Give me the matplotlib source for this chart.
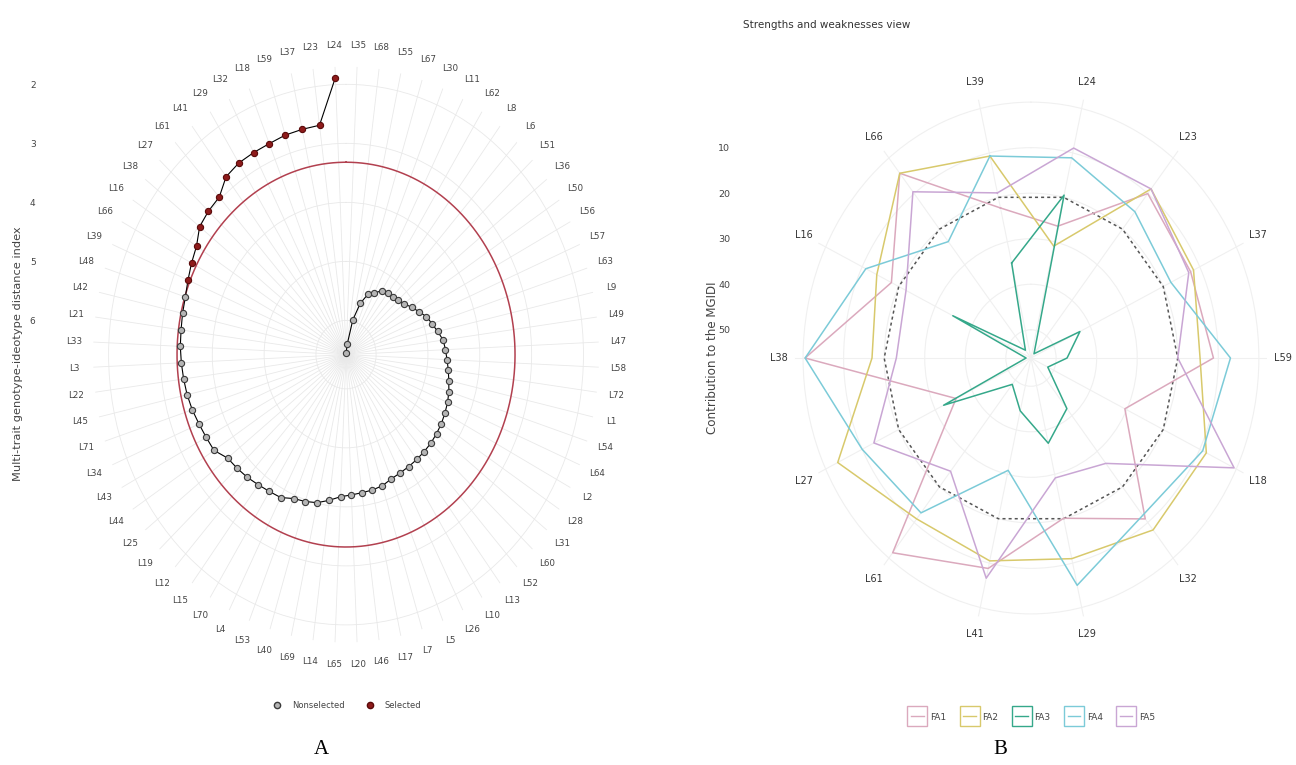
import numpy as np
import matplotlib.pyplot as plt
from matplotlib.lines import Line2D

# ---- panel A data: genotypes in plotting order (clockwise from top) and their MGIDI
genotypes = ['L35', 'L68', 'L55', 'L67', 'L30', 'L11', 'L62', 'L8', 'L6', 'L51',
             'L36', 'L50', 'L56', 'L57', 'L63', 'L9', 'L49', 'L47', 'L58', 'L72',
             'L1', 'L54', 'L64', 'L2', 'L28', 'L31', 'L60', 'L52', 'L13', 'L10',
             'L26', 'L5', 'L7', 'L17', 'L46', 'L20', 'L65', 'L14', 'L69', 'L40',
             'L53', 'L4', 'L70', 'L15', 'L12', 'L19', 'L25', 'L44', 'L43', 'L34',
             'L71', 'L45', 'L22', 'L3', 'L33', 'L21', 'L42', 'L48', 'L39', 'L66',
             'L16', 'L38', 'L27', 'L61', 'L41', 'L29', 'L32', 'L18', 'L59', 'L37',
             'L23', 'L24']
mgidi = [6.55, 6.40, 5.98, 5.67, 5.47, 5.40, 5.30, 5.26, 5.25, 5.22,
         5.17, 5.08, 5.00, 4.90, 4.84, 4.77, 4.69, 4.66, 4.63, 4.59,
         4.55, 4.50, 4.46, 4.43, 4.40, 4.38, 4.36, 4.35, 4.34, 4.33,
         4.32, 4.30, 4.25, 4.23, 4.22, 4.20, 4.17, 4.09, 4.01, 3.97,
         3.94, 3.85, 3.83, 3.80, 3.76, 3.73, 3.70, 3.56, 3.54, 3.51,
         3.47, 3.44, 3.42, 3.40, 3.38, 3.37, 3.35, 3.33, 3.28, 3.22,
         3.16, 3.02, 2.98, 2.96, 2.78, 2.73, 2.72, 2.71, 2.68, 2.67,
         2.66, 1.88]
n_selected = 14
cut_point = 3.32
mgidi_ticks = [2, 3, 4, 5, 6]

# ---- panel B data: contribution (%) of each factor to the MGIDI of the selected genotypes
sel_genotypes = ['L39', 'L24', 'L23', 'L37', 'L59', 'L18', 'L32',
                 'L29', 'L41', 'L61', 'L27', 'L38', 'L16', 'L66']
factors = ['FA1', 'FA2', 'FA3', 'FA4', 'FA5']
fa1 = [22.4, 26.5, 10.0, 12.5, 11.2, 30.5, 11.0, 20.1, 8.8, 1.5, 35.7, 0.5, 18.0, 4.3]
fa2 = [10.7, 31.0, 8.7, 11.7, 14.5, 8.2, 7.9, 11.0, 10.5, 11.0, 3.3, 17.0, 14.0, 4.3]
fa3 = [34.8, 19.5, 55.0, 42.8, 47.3, 51.6, 42.0, 37.0, 44.3, 48.8, 32.3, 55.0, 34.8, 54.0]
fa4 = [10.7, 11.1, 15.1, 17.9, 7.0, 9.2, 12.0, 5.0, 30.9, 12.7, 10.0, 0.5, 11.0, 23.5]
fa5 = [19.0, 8.9, 8.7, 13.0, 20.0, 0.6, 26.6, 29.2, 6.6, 24.4, 13.2, 23.0, 22.0, 9.5]
equal_contrib = 20
contrib_ticks = [10, 20, 30, 40, 50]

fa_colors = ['#dba9bd', '#d8c96c', '#35a88a', '#7ccbd8', '#c9a6d4']

fig = plt.figure(figsize=(12.96, 7.65), dpi=100)

# ================= panel A =================
r_center, r_outer = 6.58, 1.7
axA = fig.add_axes([0.0718, 0.160, 0.3904, 0.7529], projection='polar')
axA.set_aspect('auto')
axA.set_theta_zero_location('N')
axA.set_theta_direction(-1)
theta = np.deg2rad((np.arange(len(genotypes)) + 0.5) * 360 / len(genotypes))
axA.set_xlim(0, 2 * np.pi)
axA.set_ylim(r_center, r_outer)

axA.set_xticks(theta)
axA.set_xticklabels([])
axA.set_yticks(mgidi_ticks)
axA.set_yticklabels([])
axA.grid(True, color='#e9e9e9', lw=0.6)
axA.tick_params(length=0)
axA.spines['polar'].set_visible(False)

# cut point circle
tt = np.linspace(0, 2 * np.pi, 400)
axA.plot(tt, np.full_like(tt, cut_point), color='#b2404f', lw=1.1, zorder=2)

axA.plot(theta, mgidi, color='black', lw=0.8, zorder=3)
ns = len(genotypes) - n_selected
axA.scatter(theta[:ns], mgidi[:ns], s=20, c='#b5b5b5', edgecolors='#3a3a3a',
            linewidths=0.8, zorder=4)
axA.scatter(theta[ns:], mgidi[ns:], s=20, c='#8e1b1b', edgecolors='#5a0a0a',
            linewidths=0.8, zorder=4)

for t, g in zip(theta, genotypes):
    axA.text(t, 1.33, g, ha='center', va='center', fontsize=6.3,
             color='#444444', clip_on=False)

# straight radial axis on the left, like ggplot's coord_polar
axAy = fig.add_axes([0.0285, 0.160, 0.001, 0.7529])
axAy.set_ylim(2 * r_center - r_outer, r_outer)
axAy.set_yticks(mgidi_ticks)
axAy.set_yticklabels([str(v) for v in mgidi_ticks], fontsize=6.5, color='#444444')
axAy.set_xticks([])
axAy.tick_params(length=0, pad=1)
for s in axAy.spines.values():
    s.set_visible(False)
axAy.patch.set_visible(False)
fig.text(18 / 1296, 1 - 354 / 765, 'Multi-trait genotype-ideotype distance index',
         rotation=90, ha='center', va='center', fontsize=8.2, color='#444444')

hA = [Line2D([0], [0], ls='none', marker='o', ms=4.5, mfc='#b5b5b5', mec='#3a3a3a'),
      Line2D([0], [0], ls='none', marker='o', ms=4.5, mfc='#8e1b1b', mec='#5a0a0a')]
fig.legend(hA, ['Nonselected', 'Selected'], loc='center', ncol=2, frameon=False,
           fontsize=6, bbox_to_anchor=(345 / 1296, 1 - 705 / 765),
           handletextpad=0.8, columnspacing=2.0, labelcolor='#444444')

# ================= panel B =================
c_center, c_outer = 56.2, -2
axB = fig.add_axes([0.6134, 0.1856, 0.3642, 0.6928], projection='polar')
axB.set_aspect('auto')
axB.set_theta_zero_location('N')
axB.set_theta_direction(-1)
nb = len(sel_genotypes)
thetaB = np.deg2rad((np.arange(nb) * 360 / nb - 180 / nb) % 360)
axB.set_ylim(c_center, c_outer)
axB.set_xticks(thetaB)
axB.set_xticklabels([])
axB.set_yticks([0] + contrib_ticks)
axB.set_yticklabels([])
axB.grid(True, color='#f0f0f0', lw=0.8)
axB.tick_params(length=0)
axB.spines['polar'].set_visible(False)
axB.set_xlim(0, 2 * np.pi)

closed = np.append(thetaB, thetaB[0])
for vals, col, name in zip([fa1, fa2, fa3, fa4, fa5], fa_colors, factors):
    axB.plot(closed, vals + vals[:1], color=col, lw=1.1, label=name, zorder=3)
eq = [equal_contrib] * nb
axB.plot(closed, eq + eq[:1], color='#555555', lw=1.1, ls=(0, (2, 2)), zorder=2)

for t, g in zip(thetaB, sel_genotypes):
    axB.text(t, -6.0, g, ha='center', va='center', fontsize=7,
             color='#333333', clip_on=False)

axBy = fig.add_axes([0.5645, 0.1856, 0.001, 0.6928])
axBy.set_ylim(2 * c_center - c_outer, c_outer)
axBy.set_yticks(contrib_ticks)
axBy.set_yticklabels([str(v) for v in contrib_ticks], fontsize=6.8, color='#444444')
axBy.set_xticks([])
axBy.tick_params(length=0, pad=1)
for s in axBy.spines.values():
    s.set_visible(False)
axBy.patch.set_visible(False)
fig.text(712 / 1296, 1 - 358 / 765, 'Contribution to the MGIDI', rotation=90,
         ha='center', va='center', fontsize=8.6, color='#444444')

fig.text(743 / 1296, 1 - 25 / 765, 'Strengths and weaknesses view',
         ha='left', va='center', fontsize=7.5, color='#333333')

hB = [Line2D([0], [0], color=c, lw=1, marker='s', ms=14, mfc='none', mec=c)
      for c in fa_colors]
fig.legend(hB, factors, loc='center', ncol=5, frameon=False, fontsize=6.5,
           bbox_to_anchor=(1033 / 1296, 1 - 717 / 765), handlelength=1.4,
           handletextpad=0.7, columnspacing=1.9, labelcolor='#444444')

# panel letters
fig.text(321 / 1296, 1 - 750 / 765, 'A', fontsize=15, family='Liberation Serif',
         ha='center', va='center')
fig.text(1000 / 1296, 1 - 750 / 765, 'B', fontsize=15, family='Liberation Serif',
         ha='center', va='center')

fig.savefig('out.png', dpi=100)
